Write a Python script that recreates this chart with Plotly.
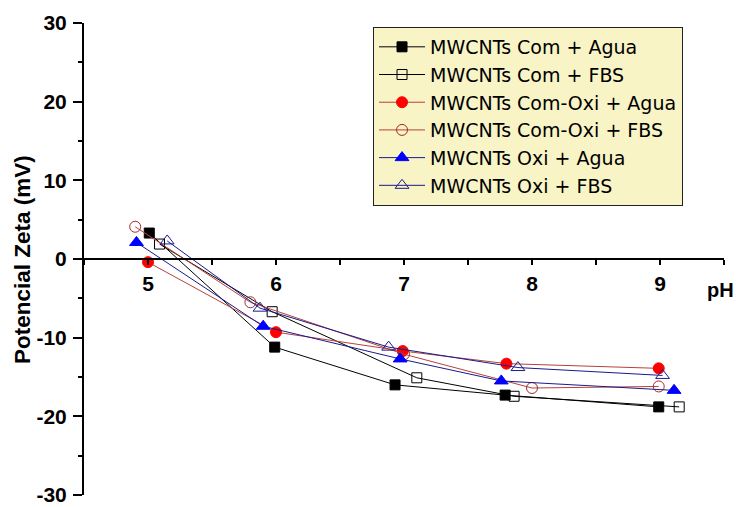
import plotly.graph_objects as go

names = ["MWCNTs Com + Agua", "MWCNTs Com + FBS", "MWCNTs Com-Oxi + Agua",
         "MWCNTs Com-Oxi + FBS", "MWCNTs Oxi + Agua", "MWCNTs Oxi + FBS"]

ph_com_agua = [5.01, 5.99, 6.93, 7.79, 8.99]
zeta_com_agua = [3.3, -11.2, -16.0, -17.3, -18.8]

ph_com_fbs = [5.09, 5.97, 7.10, 7.86, 9.15]
zeta_com_fbs = [1.9, -6.7, -15.1, -17.45, -18.8]

ph_comoxi_agua = [5.00, 6.00, 6.99, 7.80, 8.99]
zeta_comoxi_agua = [-0.4, -9.3, -11.7, -13.3, -13.9]

ph_comoxi_fbs = [4.90, 5.80, 7.00, 8.00, 8.99]
zeta_comoxi_fbs = [4.1, -5.5, -12.1, -16.4, -16.2]

ph_oxi_agua = [4.91, 5.90, 6.97, 7.76, 9.11]
zeta_oxi_agua = [2.1, -8.55, -12.7, -15.5, -16.7]

ph_oxi_fbs = [5.15, 5.875, 6.88, 7.89, 9.02]
zeta_oxi_fbs = [2.3, -6.25, -11.2, -13.8, -14.8]

x_ticks = [5, 6, 7, 8, 9]
y_ticks = [-30, -20, -10, 0, 10, 20, 30]

series = [
    (ph_com_agua, zeta_com_agua, "black", dict(symbol="square", size=10, color="black", line=dict(color="black", width=1))),
    (ph_com_fbs, zeta_com_fbs, "black", dict(symbol="square-open", size=10, color="black", line=dict(width=1))),
    (ph_comoxi_agua, zeta_comoxi_agua, "#B8413C", dict(symbol="circle", size=11, color="#FF0000", line=dict(color="#FF0000", width=1))),
    (ph_comoxi_fbs, zeta_comoxi_fbs, "#B8413C", dict(symbol="circle-open", size=11, color="#A52A2A", line=dict(width=1))),
    (ph_oxi_agua, zeta_oxi_agua, "#1A1A8C", dict(symbol="triangle-up", size=12, color="#0000FF", line=dict(color="#0000FF", width=1))),
    (ph_oxi_fbs, zeta_oxi_fbs, "#1A1A8C", dict(symbol="triangle-up-open", size=12, color="#1A1A8C", line=dict(width=1))),
]

fig = go.Figure()
for i, (xs, ys, lc, mk) in enumerate(series):
    fig.add_trace(go.Scatter(
        x=xs, y=ys, name=names[i], mode="lines+markers",
        line=dict(color=lc, width=1), marker=mk,
        legendgroup=f"g{i}",
    ))

FONT = "Liberation Sans, Arial, sans-serif"

fig.update_layout(
    width=741, height=507,
    margin=dict(l=84, r=17, t=23, b=12, autoexpand=False),
    paper_bgcolor="white", plot_bgcolor="white",
    font=dict(family=FONT, color="black"),
    showlegend=True,
    legend=dict(
        x=0.4516, y=0.9916, xanchor="left", yanchor="top",
        bgcolor="#F8F4C6", bordercolor="#222222", borderwidth=1,
        font=dict(size=19, family="DejaVu Sans, sans-serif", color="black"),
        itemwidth=46, tracegroupgap=0,
    ),
    xaxis=dict(
        range=[4.5, 9.5], anchor="free", position=0.5, automargin=False,
        showline=True, linecolor="black", linewidth=2,
        tickvals=x_ticks, ticktext=[str(v) for v in x_ticks],
        ticks="outside", ticklen=5, tickwidth=2, tickcolor="black",
        minor=dict(dtick=0.5, tick0=4.5, ticks="outside", ticklen=5, tickwidth=2, tickcolor="black"),
        tickfont=dict(size=21, family=FONT, color="black", weight="bold"),
        ticklabelstandoff=1,
        showgrid=False, zeroline=False,
    ),
    yaxis=dict(
        range=[-30, 30], automargin=False,
        showline=True, linecolor="black", linewidth=2,
        tickvals=y_ticks, ticktext=[str(v) for v in y_ticks],
        ticks="outside", ticklen=9, tickwidth=2, tickcolor="black",
        minor=dict(dtick=5, tick0=0, ticks="outside", ticklen=4, tickwidth=2, tickcolor="black"),
        tickfont=dict(size=21, family=FONT, color="black", weight="bold"),
        ticklabelstandoff=2, ticklabeloverflow="allow",
        showgrid=False, zeroline=False,
    ),
    annotations=[
        dict(text="Potencial Zeta (mV)", xref="paper", yref="paper", x=-0.0969, y=0.5,
             textangle=-90, showarrow=False, xanchor="center", yanchor="middle",
             font=dict(size=22.5, family=FONT, color="black", weight="bold")),
        dict(text="pH", xref="x", yref="y", x=9.47, y=-3.9, showarrow=False,
             xanchor="center", yanchor="middle",
             font=dict(size=20, family=FONT, color="black", weight="bold")),
    ],
)

fig.write_html("out.html")
